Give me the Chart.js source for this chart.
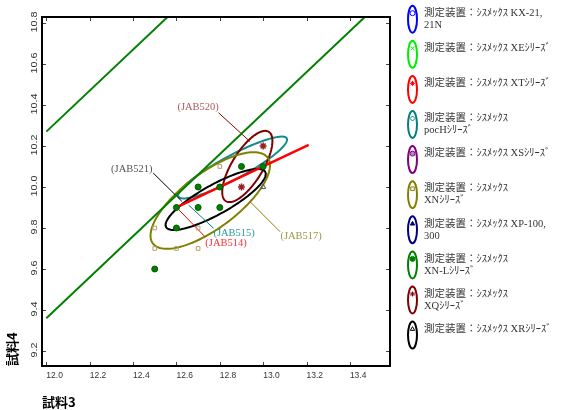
<!DOCTYPE html>
<html>
<head>
<meta charset="utf-8">
<script src="https://cdn.jsdelivr.net/npm/chart.js@4.4.1/dist/chart.umd.min.js"></script>
<style>
  html, body { margin: 0; padding: 0; background: #fff; }
  #wrap { width: 565px; height: 410px; }
</style>
</head>
<body>
<div id="wrap"><canvas id="chart" width="565" height="410"></canvas></div>
<script>
// tick values
const xTicks = [12.0, 12.2, 12.4, 12.6, 12.8, 13.0, 13.2, 13.4];
const yTicks = [9.2, 9.4, 9.6, 9.8, 10.0, 10.2, 10.4, 10.6, 10.8];

// XNシリーズ (open squares)
const xnX = [12.5, 12.5, 12.6, 12.7, 12.7, 12.8];
const xnY = [9.8, 9.7, 9.7, 9.7, 9.8, 10.1];
// XN-Lシリーズ (filled dots)
const xnlX = [12.5, 12.6, 12.6, 12.7, 12.7, 12.8, 12.8, 12.9, 13.0];
const xnlY = [9.6, 9.8, 9.9, 9.9, 10.0, 9.9, 10.0, 10.1, 10.1];
// XQシリーズ
const xqX = [12.9, 13.0];
const xqY = [10.0, 10.2];
// XRシリーズ
const xrX = [13.0];
const xrY = [10.0];

// ellipses: centre, semi axes (data units), tilt
const ellipseCx = [12.859, 12.927, 12.756, 12.781];
const ellipseCy = [10.095, 10.10, 9.934, 9.939];
const ellipseA = [0.2875, 0.196, 0.3375, 0.2654];
const ellipseB = [0.057, 0.072, 0.132, 0.071];
const ellipseDeg = [29.7, 60.2, 38.9, 30.7];
const ellipseColors = ['#128c8c', '#800000', '#808000', '#000000'];

// limit lines and regression line
const upperX = [12.0, 12.56];
const upperY = [10.27, 10.83];
const lowerX = [12.0, 13.47];
const lowerY = [9.36, 10.83];
const regX = [12.6, 13.21];
const regY = [9.9, 10.205];

// callout labels
const labelTexts = ['(JAB520)', '(JAB521)', '(JAB515)', '(JAB514)', '(JAB517)'];
const labelX = [12.70, 12.394, 12.866, 12.829, 13.175];
const labelY = [10.39, 10.086, 9.774, 9.725, 9.762];
const leaderX = [[12.794, 12.94], [12.493, 12.625], [12.771, 12.656], [12.733, 12.602], [13.078, 12.94]];
const leaderY = [[10.362, 10.221], [10.068, 9.93], [9.799, 9.912], [9.756, 9.899], [9.782, 9.928]];
const labelColors = ['#b05858', '#555555', '#2a9a9a', '#ff3030', '#9c9640'];
const leaderColors = ['#800000', '#000000', '#008080', '#ff0000', '#808000'];

// legend
const legendNames = [
  ['測定装置：ｼｽﾒｯｸｽ KX-21,', '21N'],
  ['測定装置：ｼｽﾒｯｸｽ XEｼﾘｰｽﾞ'],
  ['測定装置：ｼｽﾒｯｸｽ XTｼﾘｰｽﾞ'],
  ['測定装置：ｼｽﾒｯｸｽ', 'pocHｼﾘｰｽﾞ'],
  ['測定装置：ｼｽﾒｯｸｽ XSｼﾘｰｽﾞ'],
  ['測定装置：ｼｽﾒｯｸｽ', 'XNｼﾘｰｽﾞ'],
  ['測定装置：ｼｽﾒｯｸｽ XP-100,', '300'],
  ['測定装置：ｼｽﾒｯｸｽ', 'XN-Lｼﾘｰｽﾞ'],
  ['測定装置：ｼｽﾒｯｸｽ', 'XQｼﾘｰｽﾞ'],
  ['測定装置：ｼｽﾒｯｸｽ XRｼﾘｰｽﾞ']
];
const legendColors = ['#0000ff', '#00ee00', '#ff0000', '#008080', '#800080', '#808000', '#000080', '#008000', '#800000', '#000000'];
const legendMarkers = ['circle', 'crossRot', 'star', 'rectRot', 'circle', 'rect', 'triangle', 'circle', 'star', 'triangle'];
const legendFills = [null, null, null, null, '#c080c0', null, '#000080', '#008000', null, null];

const pts = (xs, ys) => xs.map((x, i) => ({ x: x, y: ys[i] }));

const lineSet = (xs, ys, color, width) => ({
  data: pts(xs, ys),
  showLine: true,
  borderColor: color,
  borderWidth: width,
  pointRadius: 0,
  fill: false
});

const datasets = [
  { data: pts(xrX, xrY), pointStyle: 'triangle', pointRadius: 3, borderColor: '#555', backgroundColor: 'rgba(0,0,0,0)', borderWidth: 1 },
  { data: pts(xqX, xqY), pointStyle: 'star', pointRadius: 3.5, borderColor: '#9a2020', backgroundColor: 'rgba(0,0,0,0)', borderWidth: 1.5 },
  { data: pts(xnlX, xnlY), pointStyle: 'circle', pointRadius: 3, borderColor: '#005a00', backgroundColor: '#008000', borderWidth: 1 },
  { data: pts(xnX, xnY), pointStyle: 'rect', pointRadius: 2.6, borderColor: '#b0a46a', backgroundColor: 'rgba(0,0,0,0)', borderWidth: 1 },
  lineSet(regX, regY, '#ff0000', 2.5),
  lineSet(upperX, upperY, '#008000', 2),
  lineSet(lowerX, lowerY, '#008000', 2)
];
leaderX.forEach((xs, i) => datasets.push(lineSet(xs, leaderY[i], leaderColors[i], 1)));

const ellipsePlugin = {
  id: 'ellipses',
  beforeDatasetsDraw(chart) {
    const { ctx, chartArea: a, scales: { x, y } } = chart;
    ctx.save();
    ctx.beginPath();
    ctx.rect(a.left, a.top, a.right - a.left, a.bottom - a.top);
    ctx.clip();
    ellipseCx.forEach((cx, i) => {
      const th = ellipseDeg[i] * Math.PI / 180;
      ctx.beginPath();
      for (let k = 0; k <= 144; k++) {
        const t = k / 144 * 2 * Math.PI;
        const u = ellipseA[i] * Math.cos(t);
        const v = ellipseB[i] * Math.sin(t);
        const px = x.getPixelForValue(cx + u * Math.cos(th) - v * Math.sin(th));
        const py = y.getPixelForValue(ellipseCy[i] + u * Math.sin(th) + v * Math.cos(th));
        if (k === 0) ctx.moveTo(px, py); else ctx.lineTo(px, py);
      }
      ctx.closePath();
      ctx.strokeStyle = ellipseColors[i];
      ctx.lineWidth = 2;
      ctx.stroke();
    });
    ctx.restore();
  },
  afterDatasetsDraw(chart) {
    const { ctx, scales: { x, y } } = chart;
    ctx.save();
    ctx.font = '10.5px "Liberation Serif", "Times New Roman", serif';
    ctx.textAlign = 'center';
    ctx.textBaseline = 'middle';
    labelTexts.forEach((t, i) => {
      ctx.fillStyle = labelColors[i];
      ctx.fillText(t, x.getPixelForValue(labelX[i]), y.getPixelForValue(labelY[i]));
    });
    ctx.restore();
  }
};

const framePlugin = {
  id: 'frame',
  afterDraw(chart) {
    const { ctx, chartArea: a, scales: { x, y } } = chart;
    ctx.save();
    ctx.strokeStyle = '#444';
    ctx.lineWidth = 1;
    ctx.beginPath();
    xTicks.forEach(v => {
      const px = Math.round(x.getPixelForValue(v)) + 0.5;
      ctx.moveTo(px, a.bottom); ctx.lineTo(px, a.bottom - 4);
      ctx.moveTo(px, a.top); ctx.lineTo(px, a.top + 4);
    });
    yTicks.forEach(v => {
      const py = Math.round(y.getPixelForValue(v)) + 0.5;
      ctx.moveTo(a.left, py); ctx.lineTo(a.left + 4, py);
      ctx.moveTo(a.right, py); ctx.lineTo(a.right - 4, py);
    });
    ctx.stroke();
    ctx.strokeStyle = '#000';
    ctx.lineWidth = 2;
    ctx.strokeRect(a.left, a.top, a.right - a.left, a.bottom - a.top);

    // rotated y tick labels
    ctx.fillStyle = '#333';
    ctx.font = '9px "Liberation Sans", Arial, sans-serif';
    ctx.textAlign = 'center';
    ctx.textBaseline = 'middle';
    yTicks.forEach(v => {
      ctx.save();
      ctx.translate(35, y.getPixelForValue(v) - 1);
      ctx.rotate(-Math.PI / 2);
      ctx.scale(1.2, 1);
      ctx.fillText(v.toFixed(1), 0, 0);
      ctx.restore();
    });

    // legend
    const ex = 412.5;
    legendNames.forEach((lines, i) => {
      const cy = 19.2 + i * 35.1;
      ctx.strokeStyle = legendColors[i];
      ctx.lineWidth = 2;
      ctx.beginPath();
      ctx.ellipse(ex, cy, 4.5, 13.5, 0, 0, 2 * Math.PI);
      ctx.stroke();
      ctx.lineWidth = 1;
      ctx.fillStyle = legendFills[i] || 'rgba(0,0,0,0)';
      if (Chart.helpers && Chart.helpers.drawPoint) {
        Chart.helpers.drawPoint(ctx, { pointStyle: legendMarkers[i], radius: 2.5, rotation: 0, borderWidth: 1 }, ex, cy - 6);
      }
      ctx.fillStyle = '#333';
      ctx.font = '10.5px "Liberation Serif", "Noto Sans CJK JP", serif';
      ctx.textAlign = 'left';
      ctx.textBaseline = 'middle';
      lines.forEach((ln, j) => ctx.fillText(ln, 424, cy - 6 + j * 12));
    });
    ctx.restore();
  }
};

new Chart(document.getElementById('chart'), {
  type: 'scatter',
  data: { datasets: datasets },
  options: {
    responsive: false,
    animation: false,
    devicePixelRatio: 1,
    layout: { padding: { top: 17, right: 175, bottom: 0, left: 0 } },
    plugins: { legend: { display: false }, tooltip: { enabled: false } },
    scales: {
      x: {
        type: 'linear',
        min: 11.98,
        max: 13.585,
        afterBuildTicks: s => { s.ticks = xTicks.map(v => ({ value: v })); },
        afterFit: s => { s.height = 44; },
        grid: { display: false, drawTicks: false },
        border: { display: false },
        ticks: {
          align: 'start',
          padding: 5,
          color: '#333',
          maxRotation: 0,
          autoSkip: false,
          font: { family: '"Liberation Sans", Arial, sans-serif', size: 8.5 },
          callback: v => v.toFixed(1)
        },
        title: {
          display: true,
          text: '試料3',
          align: 'start',
          color: '#000',
          font: { family: '"Noto Sans CJK JP", sans-serif', size: 13, weight: 'bold' },
          padding: { top: 4.6, bottom: 0 }
        }
      },
      y: {
        type: 'linear',
        min: 9.127,
        max: 10.829,
        afterBuildTicks: s => { s.ticks = yTicks.map(v => ({ value: v })); },
        afterFit: s => { s.width = 42; },
        grid: { display: false, drawTicks: false },
        border: { display: false },
        ticks: { display: false },
        title: {
          display: true,
          text: '試料4',
          align: 'start',
          color: '#000',
          font: { family: '"Noto Sans CJK JP", sans-serif', size: 13, weight: 'bold' },
          padding: { top: 4.6, bottom: 0 }
        }
      }
    }
  },
  plugins: [ellipsePlugin, framePlugin]
});
</script>
</body>
</html>
